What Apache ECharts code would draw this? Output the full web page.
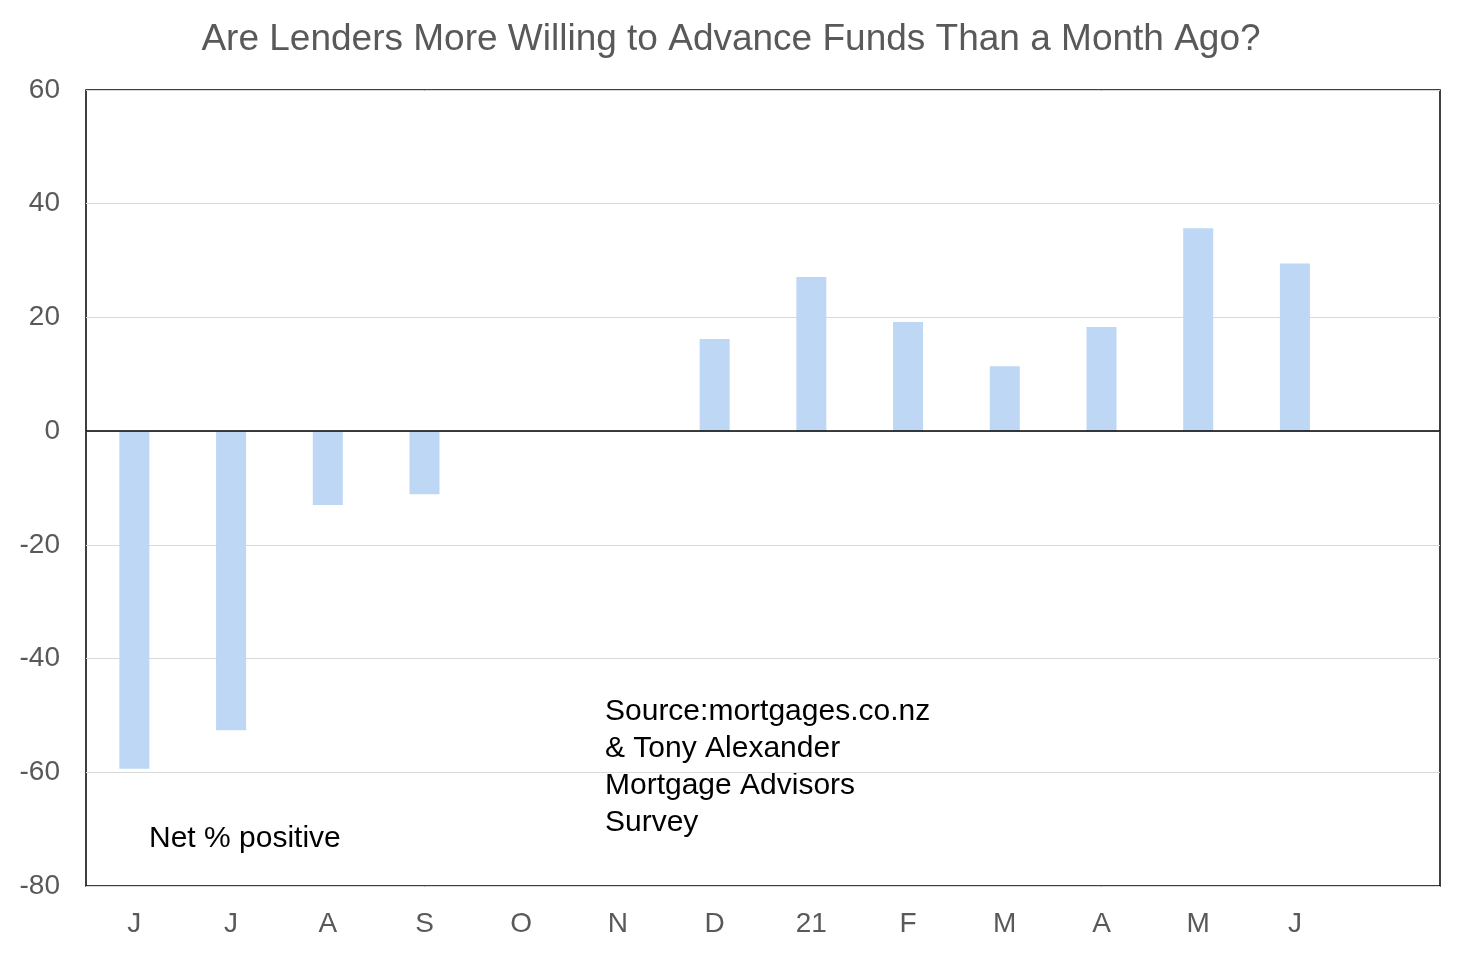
<!DOCTYPE html>
<html><head><meta charset="utf-8">
<script src="https://cdn.jsdelivr.net/npm/echarts@6/dist/echarts.min.js"></script>
<style>html,body{margin:0;padding:0;background:#fff}#c{width:1462px;height:954px}</style>
</head><body><div id="c"></div>
<script>
const months = ['J', 'J', 'A', 'S', 'O', 'N', 'D', '21', 'F', 'M', 'A', 'M', 'J', '']
const netPositive = [-59.4, -52.6, -13, -11.1, 0, 0, 16.2, 27.1, 19.2, 11.4, 18.3, 35.7, 29.5, null]
const yTicks = [-80, -60, -40, -20, 0, 20, 40, 60]

const chart = echarts.init(document.getElementById('c'))
const grey = '#595959'
chart.setOption({
  animation: false,
  title: {
    text: 'Are Lenders More Willing to Advance Funds Than a Month Ago?',
    left: 'center', top: 16,
    textStyle: { fontFamily: 'Arial, Liberation Sans', fontSize: 37, fontWeight: 'normal', color: grey }
  },
  grid: { left: 86, right: 22, top: 90, bottom: 68, show: true, borderColor: '#000', borderWidth: 1.5 },
  xAxis: {
    type: 'category', data: months,
    axisLine: { show: false }, axisTick: { show: false },
    axisLabel: { color: grey, fontSize: 28, fontFamily: 'Arial, Liberation Sans', margin: 24 }
  },
  yAxis: {
    type: 'value', min: yTicks[0], max: yTicks[yTicks.length - 1], interval: 20,
    axisLine: { show: false }, axisTick: { show: false },
    axisLabel: { color: grey, fontSize: 28, fontFamily: 'Arial, Liberation Sans', margin: 26 },
    splitLine: { lineStyle: { color: '#d9d9d9', width: 1 } }
  },
  series: [{
    type: 'bar', data: netPositive, barWidth: 30,
    itemStyle: { color: '#bdd7f5' },
    markLine: {
      silent: true, symbol: 'none', label: { show: false },
      lineStyle: { color: '#000', type: 'solid', width: 1.5 },
      data: [{ yAxis: 0 }]
    }
  }],
  graphic: [
    { type: 'text', left: 149, top: 824, style: { text: 'Net % positive', fontSize: 30, fontFamily: 'Arial, Liberation Sans', fill: '#000' } },
    { type: 'text', left: 605, top: 693, style: { text: 'Source:mortgages.co.nz\n& Tony Alexander\nMortgage Advisors\nSurvey', fontSize: 30, lineHeight: 37, fontFamily: 'Arial, Liberation Sans', fill: '#000' } }
  ]
})
</script></body></html>
